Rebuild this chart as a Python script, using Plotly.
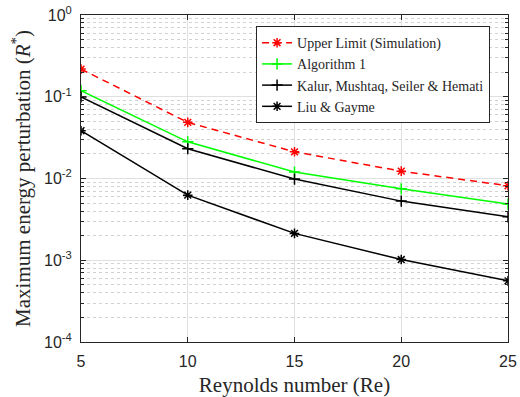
import plotly.graph_objects as go

re_vals = [5, 10, 15, 20, 25]
upper_limit = [0.218, 0.0486, 0.0212, 0.0123, 0.00814]
algorithm1 = [0.1185, 0.0281, 0.0120, 0.00748, 0.00486]
kalur = [0.0995, 0.0231, 0.00984, 0.00529, 0.0034]
liu = [0.0384, 0.00626, 0.00213, 0.00102, 0.00056]

ytick_vals = [1e-4, 1e-3, 1e-2, 1e-1, 1]
ytick_text = ["10<sup>-4</sup>", "10<sup>-3</sup>", "10<sup>-2</sup>", "10<sup>-1</sup>", "10<sup>0</sup>"]
xtick_vals = [5, 10, 15, 20, 25]
minor_vals = [m * d for d in [1e-4, 1e-3, 1e-2, 1e-1] for m in range(2, 10)]

serif = "Liberation Serif, DejaVu Serif, serif"
sans = "Liberation Sans, Arial, sans-serif"

fig = go.Figure()
fig.add_trace(go.Scatter(x=re_vals, y=upper_limit, name="Upper Limit (Simulation)",
                         mode="lines+markers",
                         line=dict(color="#ff0000", width=1.5, dash="7px,5px"),
                         marker=dict(symbol="asterisk-open", size=8, color="#ff0000",
                                     line=dict(color="#ff0000", width=1.5))))
fig.add_trace(go.Scatter(x=re_vals, y=algorithm1, name="Algorithm 1",
                         mode="lines+markers",
                         line=dict(color="#00ff00", width=1.5),
                         marker=dict(symbol="cross-thin-open", size=8, color="#00ff00",
                                     line=dict(color="#00ff00", width=1.5))))
fig.add_trace(go.Scatter(x=re_vals, y=kalur, name="Kalur, Mushtaq, Seiler &amp; Hemati",
                         mode="lines+markers",
                         line=dict(color="#000000", width=1.5),
                         marker=dict(symbol="cross-thin-open", size=8, color="#000000",
                                     line=dict(color="#000000", width=1.5))))
fig.add_trace(go.Scatter(x=re_vals, y=liu, name="Liu &amp; Gayme",
                         mode="lines+markers",
                         line=dict(color="#000000", width=1.5),
                         marker=dict(symbol="asterisk-open", size=8, color="#000000",
                                     line=dict(color="#000000", width=1.5))))

fig.update_layout(
    width=520, height=397,
    margin=dict(l=81, r=12, t=15, b=55),
    paper_bgcolor="white", plot_bgcolor="white",
    showlegend=True,
    legend=dict(x=0.41, y=0.966, xanchor="left", yanchor="top",
                bgcolor="white", bordercolor="#262626", borderwidth=1,
                font=dict(family=serif, size=14, color="#262626"),
                tracegroupgap=0, itemwidth=30),
)
fig.update_xaxes(
    range=[5, 25], tickvals=xtick_vals, automargin=False,
    showline=True, linecolor="#262626", linewidth=1, mirror="allticks",
    ticks="inside", ticklen=5, tickcolor="#262626",
    showgrid=True, gridcolor="#e0e0e0", gridwidth=1,
    zeroline=False, ticklabelstandoff=5,
    tickfont=dict(family=sans, size=16, color="#262626"),
    title=dict(text="Reynolds number (Re)", font=dict(family=serif, size=21, color="#262626"), standoff=9),
)
fig.update_yaxes(
    type="log", range=[-4, 0], tickvals=ytick_vals, ticktext=ytick_text, automargin=False,
    showline=True, linecolor="#262626", linewidth=1, mirror="allticks",
    ticks="inside", ticklen=5, tickcolor="#262626",
    showgrid=True, gridcolor="#e0e0e0", gridwidth=1,
    zeroline=False, ticklabelstandoff=5,
    minor=dict(tickmode="array", tickvals=minor_vals, ticks="inside", ticklen=3,
               tickcolor="#262626", showgrid=True,
               gridcolor="#d2d2d2", griddash="dot", gridwidth=1),
    tickfont=dict(family=sans, size=16, color="#262626"),
    title=dict(text="Maximum energy perturbation (<i>R</i><sup>*</sup>)",
               font=dict(family=serif, size=21, color="#262626"), standoff=7),
)

fig.write_html("out.html", config={"displayModeBar": False},
               post_script="document.body.style.margin='0';")
